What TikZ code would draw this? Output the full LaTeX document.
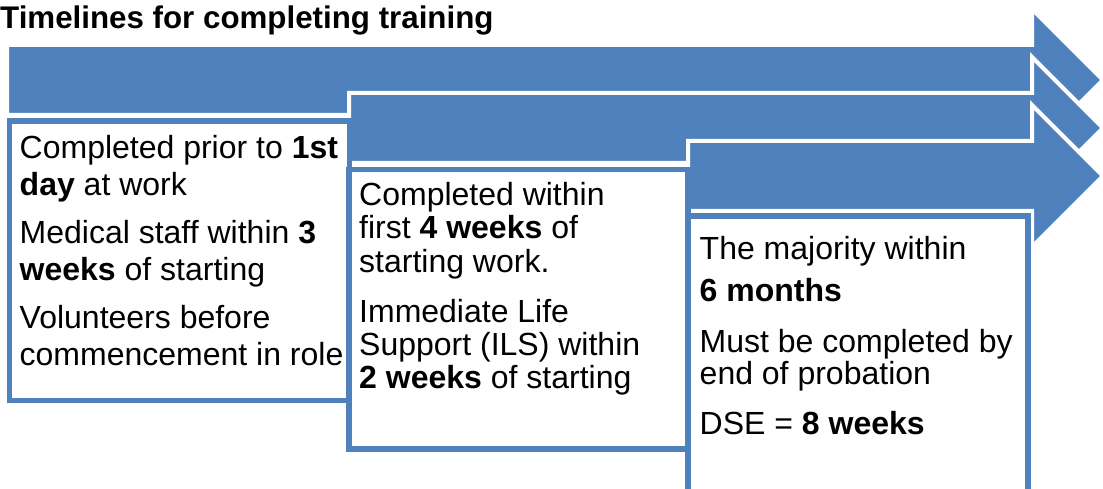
\documentclass[tikz,border=0pt]{standalone}
\usepackage{fontspec}
\setmainfont{Liberation Sans}
\definecolor{timeblue}{HTML}{4F81BD}
\tikzset{
  timearrow/.style={draw=white, line width=4pt, fill=timeblue, line join=miter},
  stagebox/.style={draw=timeblue, line width=5.5pt, fill=white},
  stagetext/.style={anchor=north west, inner sep=0pt, align=left},
}
\newcommand{\bodysize}[1]{\fontsize{32}{#1}\selectfont}

\begin{document}
\begin{tikzpicture}[x=1pt, y=-1pt]
\useasboundingbox (0,0) rectangle (1103,489);
\clip (0,0) rectangle (1103,489);

% title
\node[anchor=base west, inner sep=0pt, font=\fontsize{31.3}{36}\selectfont\bfseries] (title)
  at (0,29) {Timelines for completing training};

% arrows, back to front
\draw[timearrow] (7,45)
  -- (1032,45)
  -- (1032,9)
  -- (1103,80)
  -- (1032,151)
  -- (1032,115)
  -- (7,115)
  -- cycle;
\draw[timearrow] (349,93)
  -- (1032,93)
  -- (1032,57)
  -- (1103,128)
  -- (1032,199)
  -- (1032,163)
  -- (349,163)
  -- cycle;
\draw[timearrow] (688,141)
  -- (1032,141)
  -- (1032,105)
  -- (1103,176)
  -- (1032,247)
  -- (1032,211)
  -- (688,211)
  -- cycle;

% boxes
\draw[stagebox] (9.5,121) rectangle (349.5,400.5);
\draw[stagebox] (349,169.5) rectangle (688,449);
\draw[stagebox] (688,216) rectangle (1028,497);

% texts
\node[stagetext, font=\bodysize{36.8}] (dayone) at (19.5,135.1)
  {Completed prior to \textbf{1st}\\ \textbf{day} at work\\[11.4pt]
   Medical staff within \textbf{3}\\ \textbf{weeks} of starting\\[11.4pt]
   Volunteers before\\ commencement in role};
\node[stagetext, font=\bodysize{33.3}] (fourweeks) at (359,182.1)
  {Completed within\\ first \textbf{4 weeks} of\\ starting work.\\[16.7pt]
   Immediate Life\\ Support (ILS) within\\ \textbf{2 weeks} of starting};
\node[stagetext, font=\bodysize{32.5}] (sixmonths) at (699.5,236.1)
  {The majority within\\[10pt] \textbf{6 months}\\[18pt]
   Must be completed by\\ end of probation\\[17pt]
   DSE = \textbf{8 weeks}};

\end{tikzpicture}
\end{document}
